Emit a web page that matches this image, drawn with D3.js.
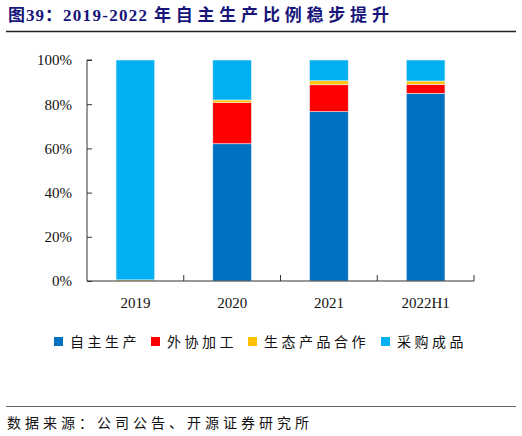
<!DOCTYPE html>
<html>
<head>
<meta charset="utf-8">
<script src="https://cdn.jsdelivr.net/npm/d3@7"></script>
<style>
  body { margin: 0; background: #fff; }
  svg { display: block; }
</style>
</head>
<body>
<div id="chart"></div>
<script>
// data (percent of total)
var categories = ["2019", "2020", "2021", "2022H1"];
var seriesNames = ["自主生产", "外协加工", "生态产品合作", "采购成品"];
var selfMade = [0, 62.1, 76.6, 84.9];
var outsourced = [0, 18.6, 12.2, 4.1];
var ecoCoop = [0.5, 1.2, 1.8, 1.5];
var purchased = [99.5, 18.1, 9.4, 9.5];
var yTicks = [0, 20, 40, 60, 80, 100];
var colors = ["#0070C0", "#FF0000", "#FFC000", "#00B0F0"];

var svgwidth = 522;
var svgheight = 436;

var margin = { top: 60, right: 48, bottom: 155, left: 87 };
var width = svgwidth - margin.left - margin.right;
var height = svgheight - margin.top - margin.bottom;

var svg = d3.select("#chart").append("svg")
    .attr("width", svgwidth)
    .attr("height", svgheight);

// title + rule (CJK parts are spaced wider than the digits)
var titleParts = [
    { t: "图", s: 1 },
    { t: "39：", s: 1 },
    { t: "2019-2022 ", s: 1.3 },
    { t: "年自主生产比例稳步提升", s: 4.8 }
];
var title = svg.append("text")
    .attr("x", 8)
    .attr("y", 21)
    .attr("fill", "#17157a")
    .style("font-family", "'Liberation Serif', 'Noto Sans CJK SC', serif")
    .style("font-weight", "bold")
    .style("font-size", "17px");
title.selectAll("tspan")
    .data(titleParts)
    .enter().append("tspan")
    .style("letter-spacing", d => d.s + "px")
    .text(d => d.t);

svg.append("line")
    .attr("x1", 6).attr("x2", 516)
    .attr("y1", 31.5).attr("y2", 31.5)
    .attr("stroke", "#222").attr("stroke-width", 1.3);

// build rows for the stack
var rows = categories.map(function(c, i) {
    return { cat: c, s0: selfMade[i], s1: outsourced[i], s2: ecoCoop[i], s3: purchased[i] };
});
var stack = d3.stack().keys(["s0", "s1", "s2", "s3"]);
var layers = stack(rows);

var chartGroup = svg.append("g")
    .attr("transform", `translate(${margin.left}, ${margin.top})`);

var xScale = d3.scaleBand()
    .domain(categories)
    .range([0, width])
    .paddingInner(0.6)
    .paddingOuter(0.3);

var yScale = d3.scaleLinear()
    .domain([0, 100])
    .range([height, 0]);

// bars
chartGroup.selectAll(".layer")
    .data(layers)
    .enter().append("g")
    .attr("class", "layer")
    .attr("fill", (d, i) => colors[i])
    .selectAll("rect")
    .data(d => d)
    .enter().append("rect")
    .attr("x", d => xScale(d.data.cat))
    .attr("width", xScale.bandwidth())
    .attr("y", d => yScale(d[1]))
    .attr("height", d => yScale(d[0]) - yScale(d[1]))
    .attr("stroke", "#e8f4fb")
    .attr("stroke-width", 0.6);

// y axis, ticks pointing inward
var leftAxis = d3.axisRight(yScale)
    .tickValues(yTicks)
    .tickSize(5)
    .tickFormat(d => d + "%");
var yAxisG = chartGroup.append("g").call(leftAxis);
yAxisG.select(".domain").attr("d", `M5,0H0V${height}`).attr("stroke", "#333");
yAxisG.selectAll(".tick line").attr("stroke", "#333");
yAxisG.selectAll(".tick text")
    .attr("x", -15)
    .attr("text-anchor", "end")
    .style("font-family", "'Liberation Serif', serif")
    .style("font-size", "15px")
    .attr("fill", "#111");

// x axis: line with upward ticks between categories
var xAxisG = chartGroup.append("g")
    .attr("transform", `translate(0, ${height})`);
xAxisG.append("line")
    .attr("x1", 0).attr("x2", width)
    .attr("y1", 0).attr("y2", 0)
    .attr("stroke", "#333").attr("stroke-width", 1.2);
var boundaries = d3.range(1, categories.length + 1).map(i => i * width / categories.length);
xAxisG.selectAll(".sep")
    .data(boundaries)
    .enter().append("line")
    .attr("x1", d => d).attr("x2", d => d)
    .attr("y1", 0).attr("y2", -6)
    .attr("stroke", "#333");
xAxisG.selectAll(".xlabel")
    .data(categories)
    .enter().append("text")
    .attr("x", d => xScale(d) + xScale.bandwidth() / 2)
    .attr("y", 27)
    .attr("text-anchor", "middle")
    .style("font-family", "'Liberation Serif', serif")
    .style("font-size", "15px")
    .attr("fill", "#111")
    .text(d => d);

// legend
var legendX = [54, 151, 248, 381];
var legend = svg.selectAll(".legend")
    .data(seriesNames)
    .enter().append("g")
    .attr("transform", (d, i) => `translate(${legendX[i]}, 337)`);
legend.append("rect")
    .attr("width", 9).attr("height", 9)
    .attr("fill", (d, i) => colors[i]);
legend.append("text")
    .attr("x", 16)
    .attr("y", 10)
    .style("font-family", "'Noto Sans CJK SC', sans-serif")
    .style("font-size", "14px")
    .style("letter-spacing", "3.5px")
    .attr("fill", "#111")
    .text(d => d);

// footer
svg.append("line")
    .attr("x1", 6).attr("x2", 516)
    .attr("y1", 406.5).attr("y2", 406.5)
    .attr("stroke", "#666").attr("stroke-width", 1);

svg.append("text")
    .attr("x", 7)
    .attr("y", 428)
    .style("font-family", "'Noto Sans CJK SC', sans-serif")
    .style("font-size", "14px")
    .style("letter-spacing", "4px")
    .attr("fill", "#111")
    .text("数据来源：公司公告、开源证券研究所");
</script>
</body>
</html>
